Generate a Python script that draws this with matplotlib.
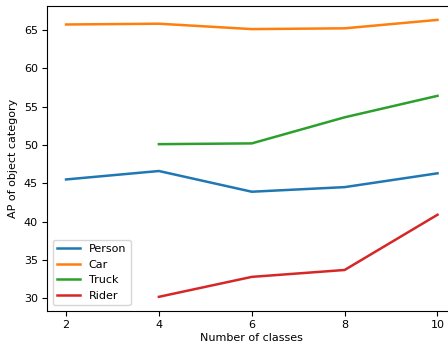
import matplotlib
matplotlib.use('Agg')
import matplotlib.pyplot as plt

classes = [2, 4, 6, 8, 10]
person = [45.5, 46.6, 43.9, 44.5, 46.3]
car = [65.7, 65.8, 65.1, 65.2, 66.3]
truck_classes = [4, 6, 8, 10]
truck = [50.1, 50.2, 53.6, 56.4]
rider_classes = [4, 6, 8, 10]
rider = [30.2, 32.8, 33.7, 40.9]

fig = plt.figure(figsize=(4.48, 3.45), dpi=100)
ax = fig.add_axes([0.106, 0.0995, 0.912, 0.883])

lw = 1.8
ax.plot(classes, person, label='Person', lw=lw)
ax.plot(classes, car, label='Car', lw=lw)
ax.plot(truck_classes, truck, label='Truck', lw=lw)
ax.plot(rider_classes, rider, label='Rider', lw=lw)

ax.set_xticks(classes)
ax.set_xlabel('Number of classes', fontsize=8, labelpad=2)
ax.set_ylabel('AP of object category', fontsize=8)
ax.tick_params(labelsize=8)
ax.legend(loc='lower left', fontsize=8)

fig.savefig('out.png', dpi=100)
